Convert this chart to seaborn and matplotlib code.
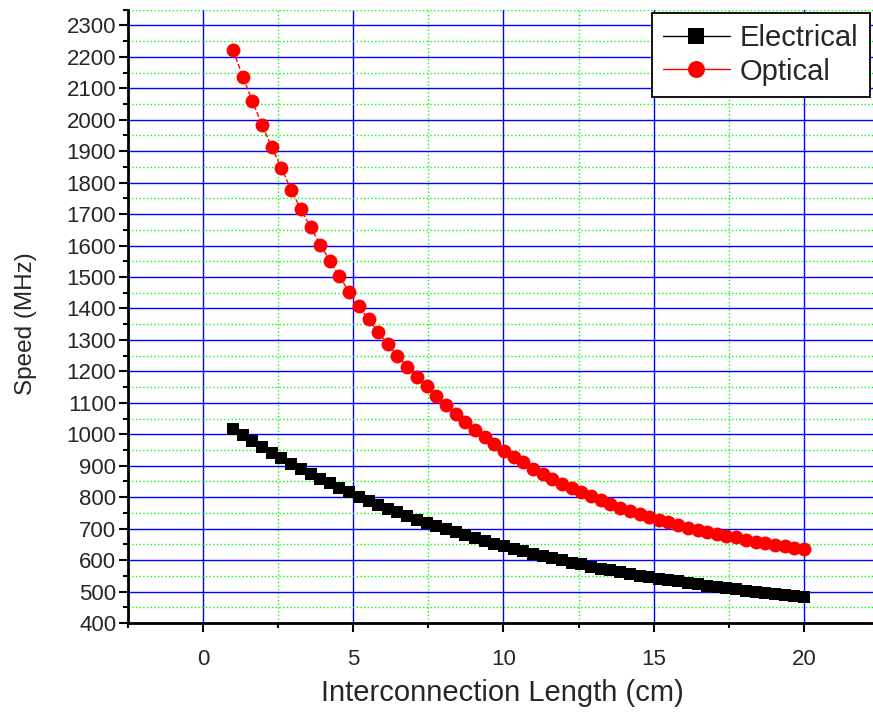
import numpy as np
import pandas as pd
import seaborn as sns
import matplotlib.pyplot as plt
from matplotlib.ticker import MultipleLocator

# interconnection length (cm), 60 samples from 1 to 20
length_cm = [1.00, 1.32, 1.64, 1.97, 2.29, 2.61, 2.93, 3.25, 3.58, 3.90,
             4.22, 4.54, 4.86, 5.19, 5.51, 5.83, 6.15, 6.47, 6.80, 7.12,
             7.44, 7.76, 8.08, 8.41, 8.73, 9.05, 9.37, 9.69, 10.02, 10.34,
             10.66, 10.98, 11.31, 11.63, 11.95, 12.27, 12.59, 12.92, 13.24, 13.56,
             13.88, 14.20, 14.53, 14.85, 15.17, 15.49, 15.81, 16.14, 16.46, 16.78,
             17.10, 17.42, 17.75, 18.07, 18.39, 18.71, 19.03, 19.36, 19.68, 20.00]

# speed in MHz
electrical = [1018, 998, 979, 960, 942, 924, 907, 891, 875, 859,
              844, 830, 816, 802, 789, 776, 764, 752, 741, 729,
              718, 708, 698, 688, 679, 669, 660, 652, 644, 635,
              628, 620, 613, 606, 599, 592, 586, 579, 573, 568,
              562, 556, 551, 546, 541, 536, 532, 527, 523, 519,
              514, 511, 507, 503, 499, 496, 493, 489, 486, 483]

optical = [2221, 2137, 2059, 1982, 1912, 1845, 1778, 1716, 1658, 1603,
           1552, 1502, 1453, 1407, 1365, 1324, 1286, 1250, 1214, 1183,
           1152, 1121, 1092, 1066, 1040, 1015, 990, 969, 948, 927,
           911, 891, 874, 857, 843, 830, 817, 804, 791, 779,
           766, 756, 745, 737, 728, 720, 712, 703, 697, 690,
           684, 678, 672, 665, 659, 653, 648, 644, 640, 636]

x_ticks = [0, 5, 10, 15, 20]
y_ticks = list(range(400, 2400, 100))

df = pd.DataFrame({'length': length_cm, 'Electrical': electrical, 'Optical': optical})

sns.set_style('white')
plt.rcParams['font.family'] = ['Liberation Sans', 'DejaVu Sans']

fig = plt.figure(figsize=(8.73, 7.17), dpi=100)
ax = fig.add_axes([0.1466, 0.1311, 0.8534, 0.8555])

sns.lineplot(data=df, x='length', y='Electrical', ax=ax, color='black',
             linewidth=1, marker='s', markersize=8, markeredgewidth=0,
             label='Electrical', zorder=3)
sns.lineplot(data=df, x='length', y='Optical', ax=ax, color='red',
             linewidth=1, linestyle='--', marker='o', markersize=10,
             markeredgewidth=0, label='Optical', zorder=3)

ax.set_xlim(-2.5, 22.3)
ax.set_ylim(400, 2350)
ax.set_xticks(x_ticks)
ax.set_yticks(y_ticks)
ax.xaxis.set_minor_locator(MultipleLocator(2.5))
ax.yaxis.set_minor_locator(MultipleLocator(50))

ax.grid(which='major', color='#0000ff', linestyle='-', linewidth=1)
ax.grid(which='minor', color='#00ff00', linestyle=':', linewidth=1)
ax.set_axisbelow(True)

for side in ['top', 'right']:
    ax.spines[side].set_visible(False)
for side in ['left', 'bottom']:
    ax.spines[side].set_color('black')
    ax.spines[side].set_linewidth(2)

ax.tick_params(which='major', direction='out', length=6.5, width=1.5,
               labelsize=16, color='black', left=True, bottom=True)
ax.tick_params(which='minor', direction='out', length=3.5, width=1.5,
               color='black', left=True, bottom=True)
ax.tick_params(axis='x', which='major', pad=12)
ax.tick_params(axis='y', which='major', pad=2)

ax.set_xlabel('Interconnection Length (cm)', fontsize=21)
ax.set_ylabel('Speed (MHz)', fontsize=17.5)
ax.xaxis.set_label_coords(0.502, -0.092)
ax.yaxis.set_label_coords(-0.122, 0.488)

leg = ax.legend(loc='upper left', bbox_to_anchor=(0.703, 0.995), borderaxespad=0,
                fontsize=21, frameon=True, fancybox=False, handlelength=2.3,
                borderpad=0.38, labelspacing=0.2, handletextpad=0.35)
leg.get_frame().set_edgecolor('black')
leg.get_frame().set_linewidth(1.3)
leg.get_frame().set_alpha(1)
# legend handles: solid lines, bigger markers
handle_sizes = [11.3, 12.2]
for line, ms in zip(leg.get_lines(), handle_sizes):
    line.set_linestyle('-')
    line.set_markersize(ms)

fig.savefig('out.png', dpi=100)
